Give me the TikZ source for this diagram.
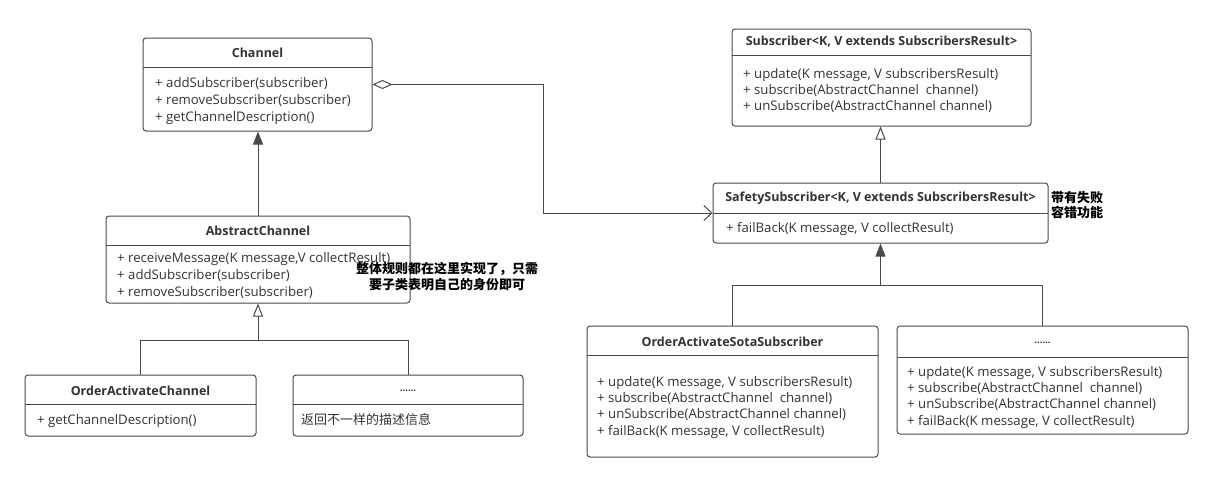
\documentclass[tikz,border=0pt]{standalone}
\usepackage{fontspec}
\setmainfont{Open Sans}
\newfontfamily\cjk{Noto Sans CJK SC}
\usetikzlibrary{arrows.meta}
\definecolor{ink}{HTML}{333333}
\definecolor{edge}{HTML}{4A4A4A}
\newcommand\members[5]{%
  \foreach \t [count=\i] in {#5} \node[member] (#1-\i) at (#2, {#3+(\i-1)*#4}) {\t};}
\begin{document}
\begin{tikzpicture}[x=1pt,y=-1pt,
  box/.style={draw=edge, line width=1pt, rounded corners=3pt, fill=white, inner sep=0pt},
  divider/.style={draw=edge, line width=1pt},
  title/.style={font=\fontsize{12.5}{14}\selectfont\bfseries, text=ink, inner sep=0pt},
  member/.style={font=\fontsize{13.2}{15}\selectfont, text=ink, anchor=west, inner sep=0pt, text height=9.5pt, text depth=3pt},
  note/.style={font=\cjk\fontsize{13}{16}\selectfont\bfseries, text=black, align=center, inner sep=0pt},
  conn/.style={draw=edge, line width=1pt},
  filledtri/.style={-{Triangle[length=13pt,width=10pt]}},
  opentri/.style={-{Triangle[open,length=13pt,width=10pt,fill=white]}},
  aggr/.style={{Diamond[open,length=20pt,width=9pt,fill=white]}-{Straight Barb[length=8pt,width=15pt]}},
]
\useasboundingbox (0,0) rectangle (1215,482);

% ---------- left side ----------
\node[box, minimum width=229pt, minimum height=93pt] (channel) at (257.5,84.5) {};
\draw[divider] (143,67) -- (372,67);
\node[title] (channel-t) at (257.5,52.5) {Channel};
\members{channel}{155}{84}{17}{{+ addSubscriber(subscriber)},{+ removeSubscriber(subscriber)},{+ getChannelDescription()}}

\node[box, minimum width=304pt, minimum height=87pt] (abs) at (258,259.5) {};
\draw[divider] (106,245) -- (410,245);
\node[title] (abs-t) at (258,231) {AbstractChannel};
\members{abs}{117}{259}{17}{{+ receiveMessage(K message,V collectResult)},{+ addSubscriber(subscriber)},{+ removeSubscriber(subscriber)}}

\node[box, minimum width=231pt, minimum height=61pt] (oac) at (140.5,405.5) {};
\draw[divider] (25,404) -- (256,404);
\node[title] (oac-t) at (140.5,391) {OrderActivateChannel};
\members{oac}{37}{421}{16}{{+ getChannelDescription()}}

\node[box, minimum width=230pt, minimum height=61pt] (dots1) at (408,405.5) {};
\draw[divider] (293,404) -- (523,404);
\node[title, font=\fontsize{9.5}{10}\selectfont\bfseries] (dots1-t) at (408,391) {......};
\node[member, font=\cjk\fontsize{13}{15}\selectfont] (dots1-1) at (301,421) {返回不一样的描述信息};

\draw[conn, filledtri] (abs.north) -- (abs.north |- channel.south);
\coordinate (j1) at (258,340);
\draw[conn] (oac.north) |- (j1);
\draw[conn] (dots1.north) |- (j1);
\draw[conn, opentri] (j1) -- (abs.south);

\node[note] (note1) at (447,277) {整体规则都在这里实现了，只需\\要子类表明自己的身份即可};

% ---------- right side ----------
\node[box, minimum width=299pt, minimum height=97pt] (sub) at (881.5,77.5) {};
\draw[divider] (732,55) -- (1031,55);
\node[title] (sub-t) at (881.5,42) {Subscriber<K, V extends SubscribersResult>};
\members{sub}{743}{75}{16}{{+ update(K message, V subscribersResult)},{+ subscribe(AbstractChannel\ \ channel)},{+ unSubscribe(AbstractChannel channel)}}

\node[box, minimum width=335pt, minimum height=60pt] (safe) at (880.5,213) {};
\draw[divider] (713,213) -- (1048,213);
\node[title] (safe-t) at (880.5,198.5) {SafetySubscriber<K, V extends SubscribersResult>};
\members{safe}{726}{229}{16}{{+ failBack(K message, V collectResult)}}

\node[note, align=left, font=\cjk\fontsize{13}{14.5}\selectfont\bfseries] (note2) at (1077,205) {带有失败\\容错功能};

\node[box, minimum width=291pt, minimum height=131pt] (oass) at (732.5,391.5) {};
\draw[divider] (587,355) -- (878,355);
\node[title] (oass-t) at (732.5,341.5) {OrderActivateSotaSubscriber};
\members{oass}{597}{383}{16.3}{{+ update(K message, V subscribersResult)},{+ subscribe(AbstractChannel\ \ channel)},{+ unSubscribe(AbstractChannel channel)},{+ failBack(K message, V collectResult)}}

\node[box, minimum width=291pt, minimum height=108pt] (dots2) at (1042.5,380) {};
\draw[divider] (897,357) -- (1188,357);
\node[title, font=\fontsize{9.5}{10}\selectfont\bfseries] (dots2-t) at (1042.5,343) {......};
\members{dots2}{907}{373}{16.3}{{+ update(K message, V subscribersResult)},{+ subscribe(AbstractChannel\ \ channel)},{+ unSubscribe(AbstractChannel channel)},{+ failBack(K message, V collectResult)}}

\draw[conn, opentri] (safe.north) -- (safe.north |- sub.south);
\coordinate (j2) at (880.5,285);
\draw[conn] (oass.north) |- (j2);
\draw[conn] (dots2.north) |- (j2);
\draw[conn, filledtri] (j2) -- (safe.south);

% ---------- aggregation ----------
\coordinate (bend) at (543,84.5);
\draw[conn, aggr] (channel.east) -- (bend) |- (safe.west);
\end{tikzpicture}
\end{document}
